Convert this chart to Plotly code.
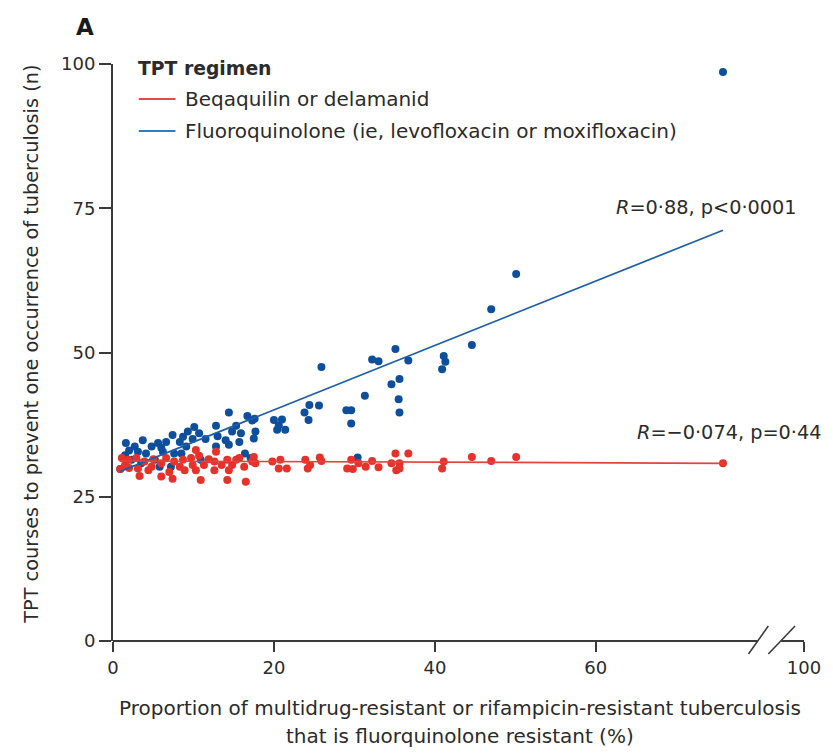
import plotly.graph_objects as go

# ---------------- data ----------------
fq_x = [0.9, 1.5, 1.6, 2.3, 2.7, 3.1, 3.5, 3.7, 4.1, 4.8, 5.2, 5.6, 5.8, 6.2, 6.6, 7.2, 7.4, 7.6,
        8.3, 8.5, 8.7, 9.1, 9.3, 9.9, 10.1, 10.7, 10.9, 12.8, 12.8, 14.0, 14.4, 14.4, 14.8, 15.3,
        15.7, 15.9, 16.4, 16.7, 17.1, 17.3, 17.6, 17.7, 17.5, 20.0, 20.4, 20.6, 21.0, 21.4, 23.8,
        24.3, 24.4, 25.6, 25.9, 29.0, 29.6, 29.6, 30.4, 31.3, 32.2, 33.0, 34.6, 35.1, 35.6, 35.5,
        35.6, 36.7, 40.9, 41.1, 41.3, 44.6, 47.0, 50.1, 75.8, 2.0, 6.0, 11.5, 13.0]
fq_y = [29.8, 32.2, 34.3, 31.4, 33.7, 32.8, 30.8, 34.8, 32.5, 33.7, 31.4, 34.3, 30.2, 32.8, 34.5,
        30.2, 35.7, 32.5, 34.5, 32.5, 35.4, 33.7, 36.3, 35.0, 37.1, 36.0, 31.4, 37.3, 33.7, 34.8,
        39.6, 34.0, 36.3, 37.3, 34.5, 36.0, 32.5, 39.0, 31.7, 38.2, 38.5, 36.3, 35.1, 38.3, 36.6,
        37.4, 38.4, 36.6, 39.6, 38.3, 40.9, 40.8, 47.5, 40.0, 40.0, 37.7, 31.8, 42.5, 48.8, 48.5,
        44.5, 50.6, 45.4, 41.9, 39.6, 48.6, 47.1, 49.4, 48.4, 51.3, 57.5, 63.6, 98.6, 33.0, 33.5,
        35.0, 35.5]

bd_x = [0.9, 1.1, 1.5, 1.9, 2.9, 3.1, 3.3, 3.9, 4.4, 4.8, 6.0, 6.0, 6.6, 7.0, 7.4, 7.6, 8.3, 8.7,
        8.9, 9.7, 9.9, 10.3, 10.3, 10.7, 10.9, 11.3, 12.6, 12.6, 12.8, 14.2, 14.2, 14.4, 14.8, 15.3,
        15.7, 16.3, 16.5, 17.3, 17.5, 17.7, 19.8, 20.6, 20.8, 21.6, 23.9, 24.2, 24.5, 25.7, 25.9,
        29.1, 29.6, 29.8, 30.5, 31.4, 32.2, 33.0, 34.6, 35.1, 35.2, 35.6, 35.6, 36.7, 40.9, 41.1,
        44.6, 47.0, 50.1, 75.8, 2.0, 5.0, 11.9, 13.5]
bd_y = [29.8, 31.7, 30.5, 31.4, 31.7, 29.9, 28.6, 31.1, 29.6, 30.2, 30.8, 28.5, 31.7, 29.3, 28.1,
        31.1, 30.2, 31.4, 29.6, 31.7, 30.5, 33.1, 29.6, 32.1, 27.9, 30.5, 31.1, 29.6, 32.8, 31.4,
        27.9, 29.6, 30.5, 31.4, 31.7, 30.2, 27.6, 31.1, 31.9, 30.8, 31.1, 29.9, 31.4, 29.9, 31.4,
        29.9, 30.5, 31.8, 31.2, 29.9, 31.4, 29.8, 30.8, 30.2, 31.2, 30.1, 30.8, 32.5, 29.6, 30.8,
        29.9, 32.5, 29.9, 31.1, 31.9, 31.2, 31.9, 30.8, 30.0, 31.5, 31.5, 30.5]

# regression lines (end points)
fq_fit_x = [0.9, 75.8]
fq_fit_y = [29.4, 71.2]
bd_fit_x = [0.9, 75.8]
bd_fit_y = [31.2, 30.8]

x_tickvals = [0, 20, 40, 60, 85.87]
x_ticktext = ["0", "20", "40", "60", "100"]
y_tickvals = [0, 25, 50, 75, 100]

legend_title = "TPT regimen"
legend_names = ["Beqaquilin or delamanid", "Fluoroquinolone (ie, levofloxacin or moxifloxacin)"]
fq_label = "<i>R</i>=0·88, p<0·0001"
bd_label = "<i>R</i>=−0·074, p=0·44"

# ---------------- style / layout ----------------
W, H = 833, 753
L, R, T, B = 113, 810, 64, 641
FONT = "DejaVu Sans"
TXT = "#2b2b2b"
AX = "#3a3a3a"
BLUE_PT = "#0d4f9c"
RED_PT = "#e6322b"
BLUE_LN = "#1f5ea6"
RED_LN = "#e0443c"
FS_TEXT = 20
FS_YT = 19.3
FS_R = 19.3
FS_TICK = 18
FS_LT = 18.8


def px(x):
    return (x - L) / (R - L)


def py(y):
    return (B - y) / (B - T)


def f(size, color=TXT):
    return dict(size=size, color=color, family=FONT)


fig = go.Figure()
fig.add_trace(go.Scatter(x=fq_x, y=fq_y, mode="markers", showlegend=False,
                         marker=dict(color=BLUE_PT, size=8), cliponaxis=False))
fig.add_trace(go.Scatter(x=bd_x, y=bd_y, mode="markers", showlegend=False,
                         marker=dict(color=RED_PT, size=8), cliponaxis=False))
fig.add_trace(go.Scatter(x=fq_fit_x, y=fq_fit_y, mode="lines", showlegend=False,
                         line=dict(color=BLUE_LN, width=1.7)))
fig.add_trace(go.Scatter(x=bd_fit_x, y=bd_fit_y, mode="lines", showlegend=False,
                         line=dict(color=RED_LN, width=1.7)))

shapes = []
# x axis line with break
shapes.append(dict(type="line", xref="paper", yref="paper", x0=0, x1=px(763), y0=0, y1=0,
                   line=dict(color=AX, width=2)))
shapes.append(dict(type="line", xref="paper", yref="paper", x0=px(787), x1=1, y0=0, y1=0,
                   line=dict(color=AX, width=2)))
shapes.append(dict(type="line", xref="paper", yref="paper", x0=px(754), x1=px(774), y0=py(654), y1=py(626),
                   line=dict(color=AX, width=1.6)))
shapes.append(dict(type="line", xref="paper", yref="paper", x0=px(774), x1=px(801), y0=py(654), y1=py(626),
                   line=dict(color=AX, width=1.6)))
# legend swatches
shapes.append(dict(type="line", xref="paper", yref="paper", x0=px(139), x1=px(176), y0=py(99), y1=py(99),
                   line=dict(color="#e5484d", width=2)))
shapes.append(dict(type="line", xref="paper", yref="paper", x0=px(139), x1=px(176), y0=py(131), y1=py(131),
                   line=dict(color="#2f7bc4", width=2)))

annotations = [
    dict(text="<b>A</b>", x=px(74), y=py(27), xref="paper", yref="paper", xanchor="left", yanchor="middle",
         showarrow=False, font=f(23, "#1a1a1a")),
    dict(text="<b>" + legend_title + "</b>", x=px(136), y=py(68), xref="paper", yref="paper",
         xanchor="left", yanchor="middle", showarrow=False, font=f(FS_LT)),
    dict(text=legend_names[0], x=px(184), y=py(99), xref="paper", yref="paper",
         xanchor="left", yanchor="middle", showarrow=False, font=f(FS_TEXT)),
    dict(text=legend_names[1], x=px(184), y=py(131), xref="paper", yref="paper",
         xanchor="left", yanchor="middle", showarrow=False, font=f(FS_TEXT)),
    dict(text=fq_label, x=px(805), y=py(207), xref="paper", yref="paper",
         xanchor="right", yanchor="middle", showarrow=False, font=f(FS_R)),
    dict(text=bd_label, x=px(830), y=py(433), xref="paper", yref="paper",
         xanchor="right", yanchor="middle", showarrow=False, font=f(FS_R)),
    dict(text="TPT courses to prevent one occurrence of tuberculosis (n)", x=px(30), y=py(344),
         xref="paper", yref="paper", xanchor="center", yanchor="middle", textangle=-90, showarrow=False,
         font=f(FS_YT)),
    dict(text="Proportion of multidrug-resistant or rifampicin-resistant tuberculosis", x=px(463), y=py(708),
         xref="paper", yref="paper", xanchor="center", yanchor="middle", showarrow=False,
         font=f(FS_TEXT)),
    dict(text="that is fluorquinolone resistant (%)", x=px(463), y=py(736),
         xref="paper", yref="paper", xanchor="center", yanchor="middle", showarrow=False,
         font=f(FS_TEXT)),
]

fig.update_layout(
    width=W, height=H,
    margin=dict(l=L, r=W - R, t=T, b=H - B),
    paper_bgcolor="white", plot_bgcolor="white",
    showlegend=False,
    font=dict(family=FONT, size=FS_TEXT, color=TXT),
    shapes=shapes,
    annotations=annotations,
    xaxis=dict(range=[0, 85.87], tickvals=x_tickvals, ticktext=x_ticktext, showline=False,
               showgrid=False, zeroline=False, ticks="outside", ticklen=10, tickwidth=1.6,
               tickcolor=AX, tickfont=f(FS_TICK), fixedrange=True),
    yaxis=dict(range=[0, 100], tickvals=y_tickvals, showline=True, linecolor=AX, linewidth=2,
               showgrid=False, zeroline=False, ticks="outside", ticklen=12, tickwidth=1.6,
               tickcolor=AX, tickfont=f(FS_TICK), fixedrange=True),
)

fig.write_html("out.html")
